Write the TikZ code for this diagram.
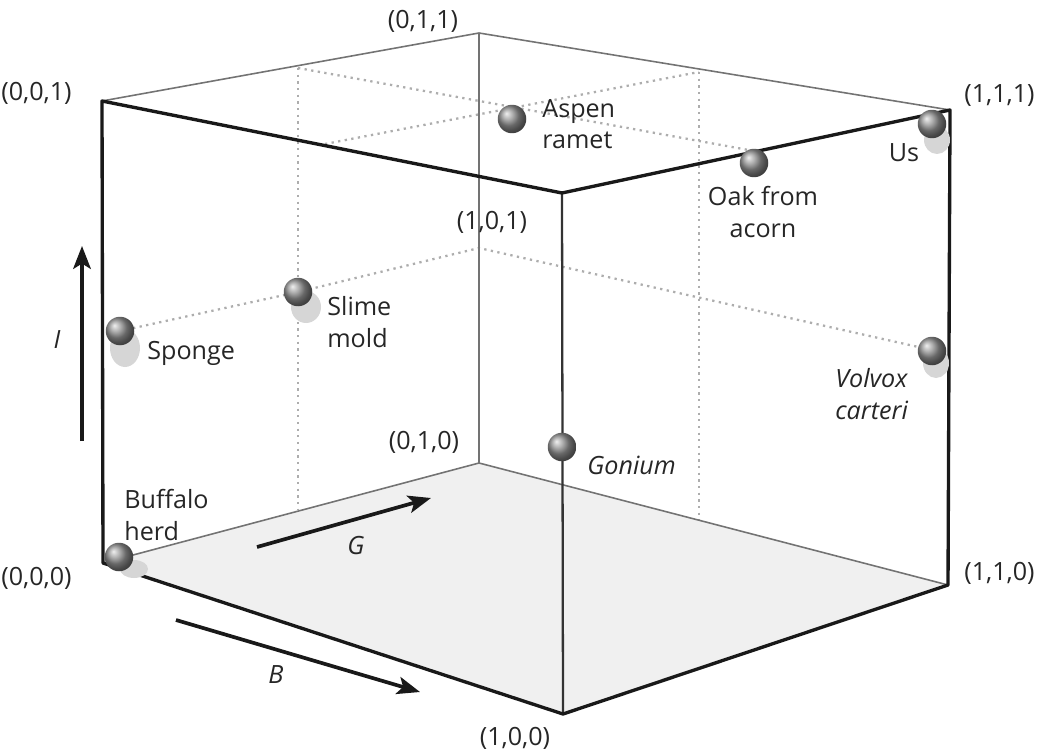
\documentclass[tikz,border=0pt]{standalone}
\usepackage{fontspec}
\setmainfont{Open Sans}
\usetikzlibrary{arrows.meta}
\begin{document}
\begin{tikzpicture}[x=0.02cm,y=-0.02cm,
 frontedge/.style={line width=1.9pt, draw=black!90, line cap=round, line join=round},
 frontmid/.style={line width=1.3pt, draw=black!80},
 backedge/.style={line width=0.9pt, draw=black!55},
 midline/.style={line width=1.3pt, draw=black!32, dash pattern=on 1.3pt off 2.5pt},
 axisarrow/.style={line width=2.1pt, draw=black!90, -{Stealth[length=13pt,width=10pt,inset=3pt]}},
 lbl/.style={inner sep=0pt, font=\fontsize{14.3}{18}\selectfont, text=black!85},
 ilbl/.style={inner sep=0pt, font=\fontsize{14.3}{18}\selectfont\itshape, text=black!85},
 ballsty/.style={circle, inner sep=0pt, minimum size=0.57cm, shading=ball, ball color=black!42},
 shadowblob/.style={fill=black!16}
]
\useasboundingbox (0,0) rectangle (1043,753);
% cube corners
\coordinate (P000) at (103,563);
\coordinate (P100) at (563,714);
\coordinate (P110) at (948,585);
\coordinate (P010) at (479,463);
\coordinate (P001) at (102,101);
\coordinate (P101) at (562,193);
\coordinate (P111) at (950,110);
\coordinate (P011) at (479,33);
% mid points
\coordinate (m1) at (298,68);
\coordinate (m2) at (298,510);
\coordinate (m3) at (699,72);
\coordinate (m4) at (699,520);
\coordinate (m5) at (325,144);
\coordinate (m6) at (479,248);
\coordinate (m8) at (754,151);
\coordinate (msp) at (120,331);
\coordinate (msl) at (298,292);
\coordinate (mvo) at (945,353);
% floor
\fill[black!6] (P000) -- (P100) -- (P110) -- (P010) -- cycle;
% dotted midlines
\draw[midline] (m1) -- (m2);
\draw[midline] (m3) -- (m4);
\draw[midline] (m1) -- (m8);
\draw[midline] (m5) -- (m3);
\draw[midline] (msp) -- (msl) -- (m6) -- (mvo);
% back edges
\draw[backedge] (P001) -- (P011) -- (P111);
\draw[backedge] (P011) -- (P010);
\draw[backedge] (P000) -- (P010) -- (P110);
% front edges
\draw[frontmid] (P101) -- (P100);
\draw[frontedge] (P000) -- (P001) -- (P101) -- (P111) -- (P110) -- (P100) -- cycle;
% shadows
\fill[shadowblob] (125,348) ellipse [x radius=0.3cm, y radius=0.38cm];
\fill[shadowblob] (306,307) ellipse [x radius=0.3cm, y radius=0.32cm];
\fill[shadowblob] (937,140) ellipse [x radius=0.26cm, y radius=0.28cm];
\fill[shadowblob] (936,363) ellipse [x radius=0.26cm, y radius=0.3cm];
\fill[shadowblob] (134,569) ellipse [x radius=0.28cm, y radius=0.18cm];
% balls
\node[ballsty] (aspen) at (512,119) {};
\node[ballsty] (oak) at (754,163) {};
\node[ballsty] (us) at (932,124) {};
\node[ballsty] (slime) at (298,292) {};
\node[ballsty] (sponge) at (120,331) {};
\node[ballsty] (volvox) at (932,351) {};
\node[ballsty] (gonium) at (562,447) {};
\node[ballsty] (buffalo) at (119,557) {};
% axis arrows
\coordinate (ia) at (82,441);
\coordinate (ib) at (82,246);
\draw[axisarrow] (ia) -- (ib);
\coordinate (ga) at (257,547);
\coordinate (gb) at (431,498);
\draw[axisarrow] (ga) -- (gb);
\coordinate (ba) at (176,620);
\coordinate (bb) at (420,692);
\draw[axisarrow] (ba) -- (bb);
% labels
\node[lbl] (l011) at (423,21) {(0,1,1)};
\node[lbl, anchor=west] (l001) at (1,93) {(0,0,1)};
\node[lbl, anchor=west] (l111) at (964,96) {(1,1,1)};
\node[lbl, anchor=west, align=left] (laspen) at (542,124) {Aspen\\ramet};
\node[lbl, align=center] (loak) at (763,212) {Oak from\\acorn};
\node[lbl] (lus) at (904,153) {Us};
\node[lbl] (l101) at (492,222) {(1,0,1)};
\node[lbl, anchor=west, align=left] (lslime) at (327,322) {Slime\\mold};
\node[lbl, anchor=west] (lsponge) at (147,353) {Sponge};
\node[ilbl] (li) at (57,340) {I};
\node[ilbl, anchor=west, align=left] (lvolvox) at (835,394) {Volvox\\carteri};
\node[lbl] (l010) at (424,442) {(0,1,0)};
\node[ilbl, anchor=west] (lgonium) at (587,465) {Gonium};
\node[lbl, anchor=west, align=left] (lbuffalo) at (124,515) {Buffalo\\herd};
\node[lbl, anchor=west] (l000) at (1,578) {(0,0,0)};
\node[ilbl] (lg) at (356,546) {G};
\node[lbl, anchor=west] (l110) at (964,573) {(1,1,0)};
\node[ilbl] (lb) at (276,675) {B};
\node[lbl] (l100) at (515,738) {(1,0,0)};
\end{tikzpicture}
\end{document}
